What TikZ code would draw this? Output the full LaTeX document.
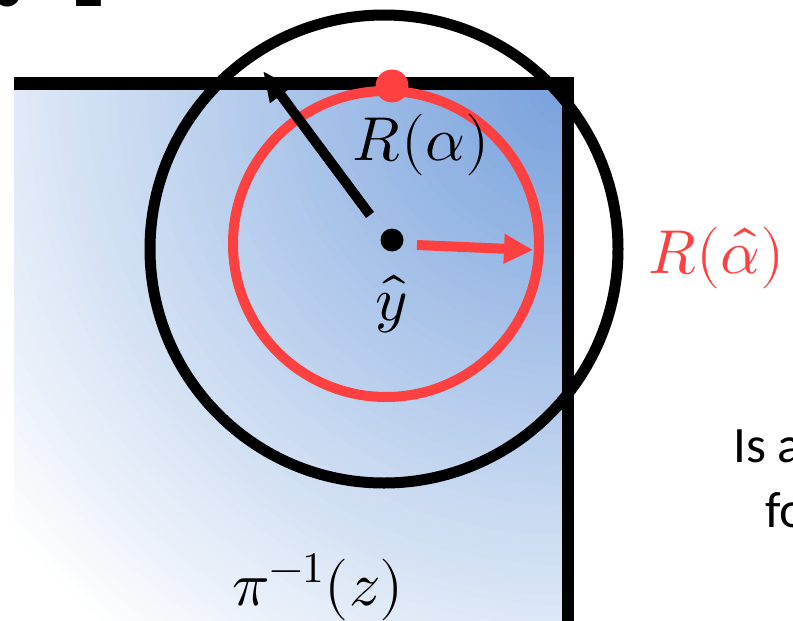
\documentclass[tikz,border=0pt]{standalone}
\usepackage{fontspec}
\usepackage{unicode-math}
\newfontfamily\carlito{Carlito}
\usetikzlibrary{arrows.meta}
\definecolor{gradblue}{RGB}{118,160,220}
\definecolor{myred}{RGB}{255,64,64}
\begin{document}
\begin{tikzpicture}[x=1pt,y=-1pt,
  wall/.style={line width=12.5pt, black, line join=miter},
  bigring/.style={line width=11pt, black},
  redring/.style={line width=10pt, myred},
  blkarrow/.style={line width=10pt, black, -{Triangle[length=30pt,width=25pt]}},
  redarrow/.style={line width=10pt, myred, -{Triangle[length=29pt,width=28pt]}},
  mathlbl/.style={inner sep=0pt, font=\fontsize{62}{74}\selectfont},
  sanslbl/.style={inner sep=0pt, font=\carlito\fontsize{51}{62}\selectfont}]
\useasboundingbox (0,0) rectangle (793,621);
\clip (0,0) rectangle (793,621);
% gradient region
\begin{scope}
  \clip (14,84) rectangle (568,621);
  \fill[white] (14,84) rectangle (568,621);
  \foreach \i in {0,...,71}{
    \pgfmathsetmacro\r{720-10*\i}
    \pgfmathsetmacro\p{100-\r/7.2}
    \fill[gradblue!\p!white] (567,85) circle (\r pt);
  }
\end{scope}
% title fragment
\node[anchor=base east, inner sep=0pt, font=\carlito\bfseries\fontsize{70}{80}\selectfont] (title) at (104,6) {Step\hspace{44pt}1};
% walls
\coordinate (wl) at (14,83.5);
\coordinate (wc) at (568,83.5);
\coordinate (wb) at (568,621);
\draw[wall] (wl) -- (wc) -- (wb);
% circles
\coordinate (bigcenter) at (384,249);
\coordinate (redcenter) at (386,244);
\draw[bigring] (bigcenter) circle (234pt);
\draw[redring] (redcenter) circle (153pt);
% dots
\node[circle, fill=myred, inner sep=0pt, minimum size=33pt] (reddot) at (392,86) {};
\node[circle, fill=black, inner sep=0pt, minimum size=23pt] (yhat) at (392,240) {};
% arrows
\coordinate (bt) at (370,215);
\coordinate (bh) at (263,71);
\draw[blkarrow] (bt) -- (bh);
\coordinate (rt) at (417,245);
\coordinate (rh) at (533,250);
\draw[redarrow] (rt) -- (rh);
% labels
\node[mathlbl, anchor=base] (lalpha) at (421,160) {$R(\alpha)$};
\node[mathlbl, anchor=base] (ly) at (391,320) {$\hat{y}$};
\node[mathlbl, anchor=base west, text=myred] (lahat) at (648,273) {$R(\hat{\alpha})$};
\node[mathlbl, anchor=base] (lpi) at (318,605) {$\pi^{-1}(z)$};
\node[sanslbl, anchor=base west] (q1) at (733,462) {Is a};
\node[sanslbl, anchor=base west] (q2) at (765,527) {fo};
\end{tikzpicture}
\end{document}
